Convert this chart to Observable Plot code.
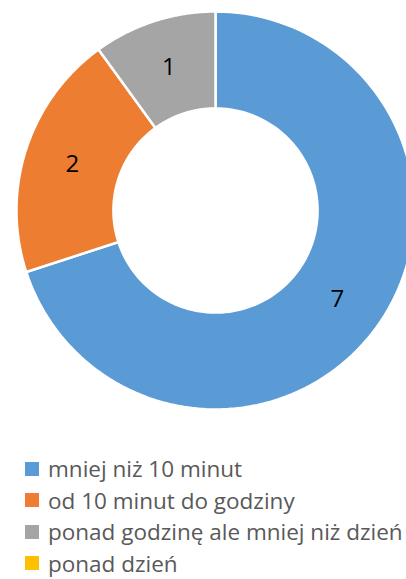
<!DOCTYPE html>
<html>
<head>
<meta charset="utf-8">
<script src="https://cdn.jsdelivr.net/npm/d3@7"></script>
<script src="https://cdn.jsdelivr.net/npm/@observablehq/plot@0.6"></script>
<style>
  html, body { margin: 0; padding: 0; background: #fff; }
  #chart { position: relative; width: 406px; height: 579px; overflow: hidden; }
  #legend { position: absolute; left: 25px; top: 453px; font-family: "Open Sans", sans-serif; font-size: 22.5px; color: #595959; }
  .row { display: flex; align-items: center; height: 31.5px; white-space: nowrap; }
  .sw { width: 14px; height: 14px; margin-right: 9px; flex: none; }
</style>
</head>
<body>
<div id="chart"></div>
<script>
const categories = ["mniej niż 10 minut", "od 10 minut do godziny", "ponad godzinę ale mniej niż dzień", "ponad dzień"];
const values = [7, 2, 1, 0];
const colors = ["#5B9BD5", "#ED7D31", "#A5A5A5", "#FFC000"];
const innerRatio = 0.513;

const pie = d3.pie().sort(null).value(d => d.value);
const arcs = pie(categories.map((c, i) => ({category: c, value: values[i]})));

// polygon points for each slice (angles clockwise from top)
const pts = [];
arcs.forEach(a => {
  if (a.endAngle - a.startAngle <= 0) return;
  const n = 120;
  const ring = [];
  for (let k = 0; k <= n; k++) {
    const t = a.startAngle + (a.endAngle - a.startAngle) * k / n;
    ring.push([Math.sin(t), Math.cos(t)]);
  }
  for (let k = n; k >= 0; k--) {
    const t = a.startAngle + (a.endAngle - a.startAngle) * k / n;
    ring.push([innerRatio * Math.sin(t), innerRatio * Math.cos(t)]);
  }
  ring.push(ring[0]);
  ring.forEach(([x, y]) => pts.push({category: a.data.category, x, y}));
});

const labels = arcs.filter(a => a.value > 0).map(a => {
  const m = (a.startAngle + a.endAngle) / 2, r = (1 + innerRatio) / 2;
  return {x: r * Math.sin(m), y: r * Math.cos(m), text: String(a.value)};
});

const plot = Plot.plot({
  width: 406,
  height: 425,
  margin: 0,
  x: {domain: [-1, 1], range: [16, 414], axis: null},
  y: {domain: [-1, 1], range: [409, 11], axis: null},
  color: {domain: categories, range: colors},
  marks: [
    Plot.line(pts, {x: "x", y: "y", z: "category", fill: "category", stroke: "#fff", strokeWidth: 2.5, curve: "linear"}),
    Plot.text(labels, {x: "x", y: "y", text: "text", fontSize: 24, fill: "#000", fontFamily: "Open Sans, sans-serif"})
  ]
});
plot.style.overflow = "visible";
const chart = document.getElementById("chart");
chart.appendChild(plot);

const legend = document.createElement("div");
legend.id = "legend";
categories.forEach((c, i) => {
  const row = document.createElement("div");
  row.className = "row";
  const sw = document.createElement("span");
  sw.className = "sw";
  sw.style.background = colors[i];
  const tx = document.createElement("span");
  tx.textContent = c;
  row.appendChild(sw); row.appendChild(tx);
  legend.appendChild(row);
});
chart.appendChild(legend);
</script>
</body>
</html>
